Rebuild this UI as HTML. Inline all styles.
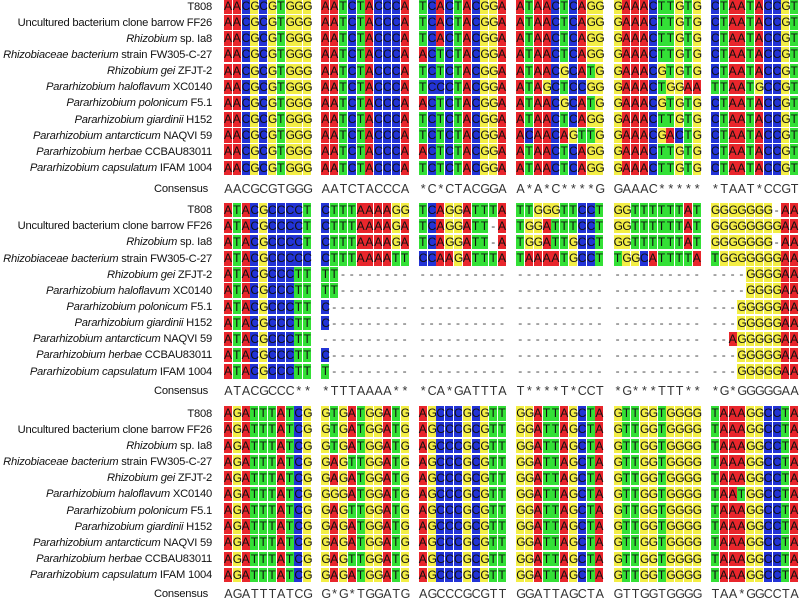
<!DOCTYPE html>
<html><head><meta charset="utf-8">
<style>
html,body{margin:0;padding:0;background:#fff;}
#root{position:relative;width:800px;height:600px;overflow:hidden;font-family:"Liberation Sans",Arial,sans-serif;}
.lab{position:absolute;right:588px;white-space:nowrap;font-size:11.2px;letter-spacing:-0.22px;color:#111;line-height:14px;}
.cell{position:absolute;width:8px;height:14.5px;font-size:12px;line-height:14.5px;text-align:center;color:#111;}
.con{position:absolute;font-size:12.5px;color:#333;line-height:14px;width:8.8px;text-align:center;}
</style></head>
<body>
<div id="root"></div>
<script>
const taxa = [
 ["T808",""],
 ["Uncultured bacterium clone barrow FF26",""],
 ["<i>Rhizobium</i> sp. Ia8",""],
 ["<i>Rhizobiaceae bacterium</i> strain FW305-C-27",""],
 ["<i>Rhizobium gei</i> ZFJT-2",""],
 ["<i>Pararhizobium haloflavum</i> XC0140",""],
 ["<i>Pararhizobium polonicum</i> F5.1",""],
 ["<i>Pararhizobium giardinii</i> H152",""],
 ["<i>Pararhizobium antarcticum</i> NAQVI 59",""],
 ["<i>Pararhizobium herbae</i> CCBAU83011",""],
 ["<i>Pararhizobium capsulatum</i> IFAM 1004",""]
];
const sec1 = [
 "AACGCGTGGG AATCTACCCA TCACTACGGA ATAACTCAGG GAAACTTGTG CTAATACCGT",
 "AACGCGTGGG AATCTACCCA TCACTACGGA ATAACTCAGG GAAACTTGTG CTAATACCGT",
 "AACGCGTGGG AATCTACCCA TCACTACGGA ATAACTCAGG GAAACTTGTG CTAATACCGT",
 "AACGCGTGGG AATCTACCCA ACTCTACGGA ATAACTCAGG GAAACTTGTG CTAATACCGT",
 "AACGCGTGGG AATCTACCCA TCTCTACGGA ATAACGCATG GAAACGTGTG CTAATACCGT",
 "AACGCGTGGG AATCTACCCA TCCCTACGGA ATAGCTCCGG GAAACTGGAA TTAATGCCGT",
 "AACGCGTGGG AATCTACCCA ACTCTACGGA ATAACGCATG GAAACGTGTG CTAATACCGT",
 "AACGCGTGGG AATCTACCCA TCTCTACGGA ATAACTCAGG GAAACTTGTG CTAATACCGT",
 "AACGCGTGGG AATCTACCCA TCTCTACGGA ACAACAGTTG GAAACGACTG CTAATACCGT",
 "AACGCGTGGG AATCTACCCA ACTCTACGGA ATAACTCAGG GAAACTTGTG CTAATACCGT",
 "AACGCGTGGG AATCTACCCA TCTCTACGGA ATAACTCAGG GAAACTTGTG CTAATACCGT"
];
const con1 = "AACGCGTGGG AATCTACCCA *C*CTACGGA A*A*C****G GAAAC***** *TAAT*CCGT";
const sec2 = [
 "ATACGCCCCT CTTTAAAAGG TCAGGATTTA TTGGGTTCCT GGTTTTTTAT GGGGGGG-AA",
 "ATACGCCCCT CTTTAAAAGA TCAGGATT-A TGGATTTCCT GGTTTTTTAT GGGGGGGGAA",
 "ATACGCCCCT CTTTAAAAGA TCAGGATT-A TGGATTGCCT GGTTTTTTAT GGGGGGG-AA",
 "ATACGCCCCC CTTTAAAATT CCAAGATTTA TAAAATGCCT TGGCATTTTA TGGGGGGGAA",
 "ATACGCCCTT TT-------- ---------- ---------- ---------- ----GGGGAA",
 "ATACGCCCTT TT-------- ---------- ---------- ---------- ----GGGGAA",
 "ATACGCCCTT C--------- ---------- ---------- ---------- ---GGGGGAA",
 "ATACGCCCTT C--------- ---------- ---------- ---------- ---GGGGGAA",
 "ATACGCCCTT ---------- ---------- ---------- ---------- --AGGGGGAA",
 "ATACGCCCTT C--------- ---------- ---------- ---------- ---GGGGGAA",
 "ATACGCCCTT T--------- ---------- ---------- ---------- ---GGGGGAA"
];
const con2 = "ATACGCCC** *TTTAAAA** *CA*GATTTA T****T*CCT *G***TTT** *G*GGGGGAA";
const sec3 = [
 "AGATTTATCG GTGATGGATG AGCCCGCGTT GGATTAGCTA GTTGGTGGGG TAAAGGCCTA",
 "AGATTTATCG GTGATGGATG AGCCCGCGTT GGATTAGCTA GTTGGTGGGG TAAAGGCCTA",
 "AGATTTATCG GTGATGGATG AGCCCGCGTT GGATTAGCTA GTTGGTGGGG TAAAGGCCTA",
 "AGATTTATCG GAGTTGGATG AGCCCGCGTT GGATTAGCTA GTTGGTGGGG TAAAGGCCTA",
 "AGATTTATCG GAGATGGATG AGCCCGCGTT GGATTAGCTA GTTGGTGGGG TAAAGGCCTA",
 "AGATTTATCG GGGATGGATG AGCCCGCGTT GGATTAGCTA GTTGGTGGGG TAATGGCCTA",
 "AGATTTATCG GAGTTGGATG AGCCCGCGTT GGATTAGCTA GTTGGTGGGG TAAAGGCCTA",
 "AGATTTATCG GAGATGGATG AGCCCGCGTT GGATTAGCTA GTTGGTGGGG TAAAGGCCTA",
 "AGATTTATCG GAGATGGATG AGCCCGCGTT GGATTAGCTA GTTGGTGGGG TAAAGGCCTA",
 "AGATTTATCG GAGTTGGATG AGCCCGCGTT GGATTAGCTA GTTGGTGGGG TAAAGGCCTA",
 "AGATTTATCG GAGATGGATG AGCCCGCGTT GGATTAGCTA GTTGGTGGGG TAAAGGCCTA"
];
const con3 = "AGATTTATCG G*G*TGGATG AGCCCGCGTT GGATTAGCTA GTTGGTGGGG TAA*GGCCTA";
const sections = [sec1, sec2, sec3];
const consensus = [con1, con2, con3];
const colors = {A:"#e8262c",C:"#2233d6",G:"#f3ee45",T:"#33e036"};

const root = document.getElementById('root');
const secTop = s => -1 + s*203.6;
const rowTop = (s,r) => secTop(s) + r*16.15;
const colX = (b,c) => 224 + b*97.4 + c*8.8;

sections.forEach((rows, s) => {
  const sg = document.createElement('div');
  
  
  root.appendChild(sg);
  rows.forEach((seq, r) => {
    const lab = document.createElement('div');
    lab.className = 'lab';
    
    
    lab.innerHTML = taxa[r][0];
    lab.style.top = (rowTop(s,r) + 0.5) + 'px';
    sg.appendChild(lab);
    seq.split(' ').forEach((blk, b) => {
      for (let c = 0; c < blk.length; c++) {
        const ch = blk[c];
        const d = document.createElement('div');
        d.className = 'cell';
        
        
        d.textContent = ch;
        d.style.left = colX(b,c) + 'px';
        d.style.top = rowTop(s,r) + 'px';
        if (colors[ch]) d.style.background = colors[ch];
        else d.style.color = '#444';
        sg.appendChild(d);
      }
    });
  });
  const cy = secTop(s) + 183 - s*1.2;
  const cl = document.createElement('div');
  cl.className = 'lab';
  cl.style.right = '592px';
  
  
  cl.textContent = 'Consensus';
  cl.style.top = cy + 'px';
  sg.appendChild(cl);
  consensus[s].split(' ').forEach((blk, b) => {
    for (let c = 0; c < blk.length; c++) {
      const d = document.createElement('div');
      d.className = 'con';
      
      
      d.textContent = blk[c];
      d.style.left = colX(b,c) + 'px';
      d.style.top = cy + 'px';
      sg.appendChild(d);
    }
  });
});
</script>
</body></html>
